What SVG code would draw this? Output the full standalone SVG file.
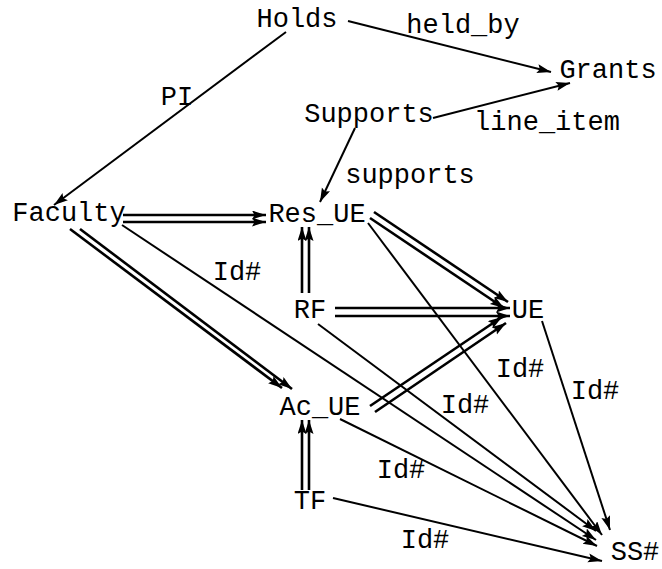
<svg xmlns="http://www.w3.org/2000/svg" width="662" height="569" viewBox="0 0 662 569">
<style>
text{font-family:"Liberation Mono","DejaVu Sans Mono",monospace;font-size:27px;fill:#000;text-anchor:middle}
.s{stroke:#000;stroke-width:2;fill:none;marker-end:url(#ah)}
.d{stroke:#000;stroke-width:2.6;fill:none;marker-end:url(#ah)}
</style>
<defs>
<marker id="ah" markerUnits="userSpaceOnUse" markerWidth="16" markerHeight="10" refX="14" refY="4.5" orient="auto">
<path d="M0,0 L14,4.5 L0,9 L2.5,4.5 z" fill="#000"/>
</marker>
</defs>
<rect width="662" height="569" fill="#fff"/>
<g id="connectors">
<line class="s" x1="348" y1="21" x2="551" y2="72"/>
<line class="s" x1="286" y1="32" x2="54" y2="205"/>
<line class="s" x1="433" y1="118" x2="570" y2="83"/>
<line class="s" x1="355" y1="128" x2="320" y2="202"/>
<line class="s" x1="122" y1="225" x2="596" y2="540"/>
<line class="s" x1="368" y1="223" x2="602" y2="535"/>
<line class="s" x1="318" y1="324" x2="596" y2="531"/>
<line class="s" x1="542" y1="321" x2="610" y2="530"/>
<line class="s" x1="340" y1="419" x2="597" y2="546"/>
<line class="s" x1="333" y1="498" x2="602" y2="561"/>
<line class="d" x1="123" y1="215" x2="266" y2="215"/>
<line class="d" x1="123" y1="222" x2="266" y2="222"/>
<line class="d" x1="70" y1="229" x2="282" y2="388"/>
<line class="d" x1="80" y1="229" x2="292" y2="389"/>
<line class="d" x1="374" y1="212" x2="508" y2="302"/>
<line class="d" x1="370" y1="218" x2="504" y2="308"/>
<line class="d" x1="302" y1="293" x2="302" y2="227"/>
<line class="d" x1="309" y1="293" x2="309" y2="227"/>
<line class="d" x1="335" y1="308" x2="510" y2="308"/>
<line class="d" x1="335" y1="316" x2="510" y2="316"/>
<line class="d" x1="370" y1="406" x2="502" y2="317"/>
<line class="d" x1="375" y1="412" x2="506" y2="323"/>
<line class="d" x1="302" y1="490" x2="302" y2="420"/>
<line class="d" x1="309" y1="490" x2="309" y2="420"/>
</g>
<g id="edge-labels">
<text x="463" y="33">held_by</text>
<text x="177" y="105">PI</text>
<text x="547" y="130">line_item</text>
<text x="410" y="183">supports</text>
<text x="237" y="280">Id#</text>
<text x="520" y="377">Id#</text>
<text x="595" y="399">Id#</text>
<text x="465" y="413">Id#</text>
<text x="401" y="478">Id#</text>
<text x="425" y="548">Id#</text>
</g>
<g id="Holds"><text x="297" y="27">Holds</text></g>
<g id="Grants"><text x="608" y="78">Grants</text></g>
<g id="Supports"><text x="369" y="122">Supports</text></g>
<g id="Faculty"><text x="69" y="221">Faculty</text></g>
<g id="Res_UE"><text x="317" y="222">Res_UE</text></g>
<g id="RF"><text x="310" y="318">RF</text></g>
<g id="UE"><text x="528" y="318">UE</text></g>
<g id="Ac_UE"><text x="320" y="415">Ac_UE</text></g>
<g id="TF"><text x="310" y="509">TF</text></g>
<g id="SS"><text x="635" y="560">SS#</text></g>
</svg>
